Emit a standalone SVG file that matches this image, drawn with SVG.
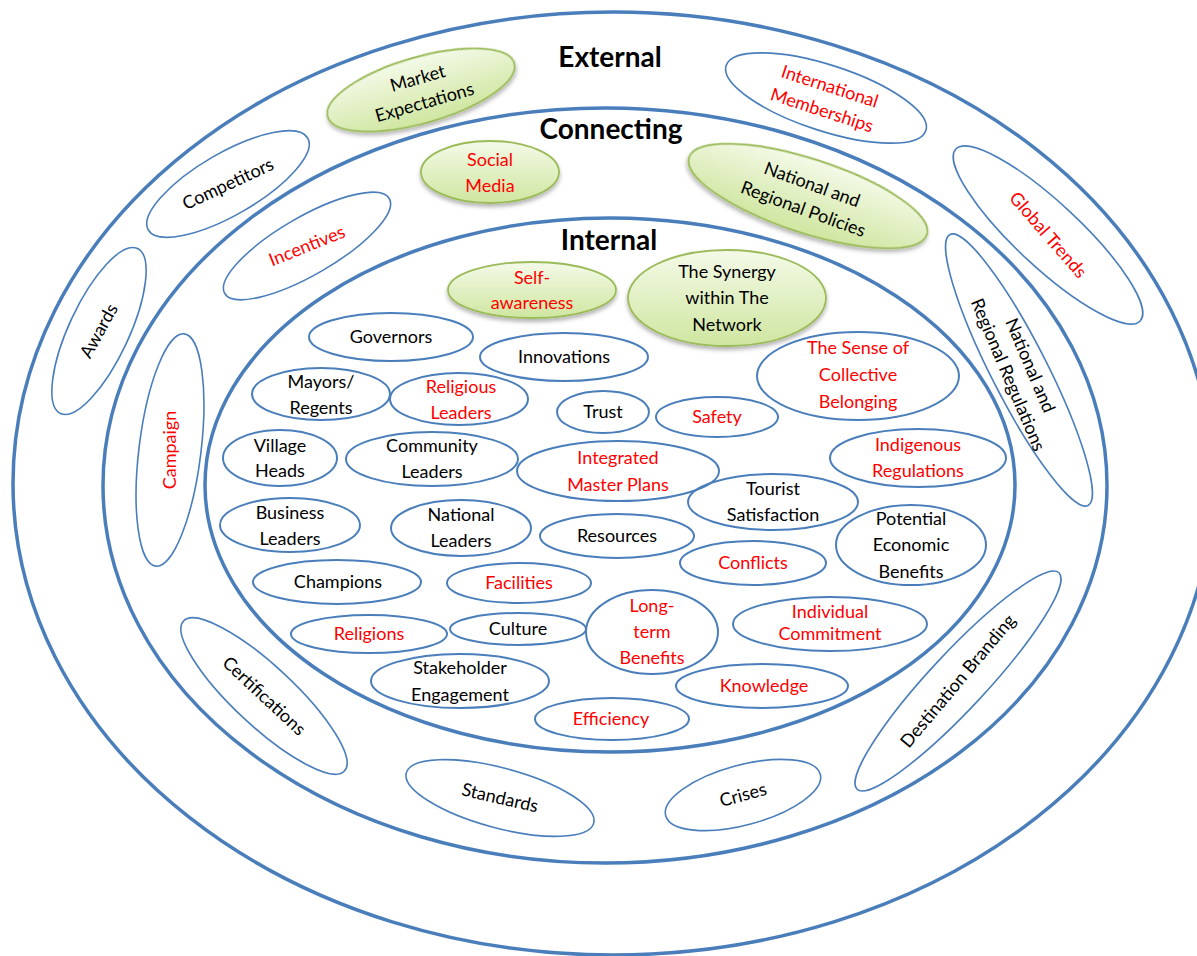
<svg xmlns="http://www.w3.org/2000/svg" width="1197" height="956" viewBox="0 0 1197 956">
<style>
.ring{fill:none;stroke:#4a7ebb;stroke-width:3.5}
.n{fill:none;stroke:#4a7ebb;stroke-width:2}
.o{fill:none;stroke:#4a7ebb;stroke-width:1.6}
.g{fill:url(#gg);stroke:#9bbb59;stroke-width:1.8;filter:url(#sh)}
text{font-family:Lato,"Liberation Sans",sans-serif;font-size:18px;text-anchor:middle;fill:#000}
.r{fill:#ff0000}
.h{font-weight:bold;font-size:28px}
</style>
<defs>
<linearGradient id="gg" x1="0" y1="0" x2="0" y2="1">
<stop offset="0" stop-color="#f4fae8"/>
<stop offset="1" stop-color="#cfe6a0"/>
</linearGradient>
<filter id="sh" x="-20%" y="-20%" width="140%" height="150%">
<feDropShadow dx="0" dy="3" stdDeviation="2" flood-color="#000" flood-opacity="0.3"/>
</filter>
</defs>
<g id="rings">
<ellipse class="ring" cx="613" cy="483.5" rx="600" ry="471.5"/>
<ellipse class="ring" cx="605" cy="485.5" rx="502" ry="377.5"/>
<ellipse class="ring" cx="610" cy="485" rx="405" ry="267"/>
</g>
<g id="labels">
<text class="h" x="610" y="67">External</text>
<text class="h" x="611" y="139">Connecting</text>
<text class="h" x="609" y="250">Internal</text>
</g>
<g id="connectors"></g>
<!-- external ring -->
<g id="market" transform="translate(421,90) rotate(-16)">
<ellipse class="g" rx="97" ry="33"/>
<text y="-6">Market</text><text y="19">Expectations</text>
</g>
<g id="intl" transform="translate(826,98) rotate(18)">
<ellipse class="o" rx="105" ry="33"/>
<text class="r" y="-6">International</text><text class="r" y="19">Memberships</text>
</g>
<g id="competitors" transform="translate(228,184) rotate(-30)">
<ellipse class="o" rx="92" ry="31"/>
<text y="6" transform="rotate(5)">Competitors</text>
</g>
<g id="global" transform="translate(1048,235) rotate(43)">
<ellipse class="o" rx="126" ry="32"/>
<text class="r" y="6" transform="rotate(6)">Global Trends</text>
</g>
<g id="awards" transform="translate(99,331) rotate(-65)">
<ellipse class="o" rx="91" ry="30"/>
<text y="6" transform="rotate(4)">Awards</text>
</g>
<g id="certifications" transform="translate(264,696) rotate(43)">
<ellipse class="o" rx="110" ry="30"/>
<text y="6">Certifications</text>
</g>
<g id="standards" transform="translate(500,798) rotate(15)">
<ellipse class="o" rx="97" ry="30"/>
<text y="6" transform="rotate(-2)">Standards</text>
</g>
<g id="crises" transform="translate(743,795) rotate(-15)">
<ellipse class="o" rx="80" ry="30"/>
<text y="6">Crises</text>
</g>
<g id="branding" transform="translate(958,681) rotate(-47)">
<ellipse class="o" rx="148" ry="28"/>
<text y="6" transform="rotate(-3)">Destination Branding</text>
</g>
<!-- connecting ring -->
<g id="social">
<ellipse class="g" cx="490" cy="172" rx="69" ry="31"/>
<text class="r" x="490" y="166">Social</text><text class="r" x="490" y="192">Media</text>
</g>
<g id="policies" transform="translate(808,196) rotate(18)">
<ellipse class="g" rx="125" ry="37"/>
<text y="-6" transform="rotate(2)">National and</text><text y="20" transform="rotate(2)">Regional Policies</text>
</g>
<g id="incentives" transform="translate(307,246) rotate(-30)">
<ellipse class="o" rx="95" ry="29"/>
<text class="r" y="6" transform="rotate(8)">Incentives</text>
</g>
<g id="campaign" transform="translate(170,450) rotate(-83)">
<ellipse class="o" rx="117" ry="31"/>
<text class="r" y="6" transform="rotate(-7)">Campaign</text>
</g>
<g id="regulations" transform="translate(1019,370) rotate(63)">
<ellipse class="o" rx="152" ry="28"/>
<text y="-6" transform="rotate(4)">National and</text><text y="18" transform="rotate(4)">Regional Regulations</text>
</g>
<!-- internal ring -->
<g id="selfaware">
<ellipse class="g" cx="532" cy="290" rx="84" ry="28"/>
<text class="r" x="532" y="284">Self-</text><text class="r" x="532" y="309">awareness</text>
</g>
<g id="synergy">
<ellipse class="g" cx="727" cy="298" rx="99" ry="48"/>
<text x="727" y="278">The Synergy</text><text x="727" y="304">within The</text><text x="727" y="331">Network</text>
</g>
<g id="governors"><ellipse class="n" cx="391" cy="337" rx="82" ry="24"/><text x="391" y="343">Governors</text></g>
<g id="innovations"><ellipse class="n" cx="564" cy="357" rx="84" ry="24"/><text x="564" y="363">Innovations</text></g>
<g id="sense"><ellipse class="n" cx="858" cy="376" rx="101" ry="44"/><text class="r" x="858" y="354">The Sense of</text><text class="r" x="858" y="381">Collective</text><text class="r" x="858" y="408">Belonging</text></g>
<g id="mayors"><ellipse class="n" cx="321" cy="394" rx="69" ry="26"/><text x="321" y="388">Mayors/</text><text x="321" y="414">Regents</text></g>
<g id="religiousleaders"><ellipse class="n" cx="459" cy="399" rx="69" ry="26"/><text class="r" x="461" y="393">Religious</text><text class="r" x="461" y="419">Leaders</text></g>
<g id="trust"><ellipse class="n" cx="603" cy="412" rx="46" ry="21"/><text x="603" y="418">Trust</text></g>
<g id="safety"><ellipse class="n" cx="717" cy="417" rx="61" ry="20"/><text class="r" x="717" y="423">Safety</text></g>
<g id="indigenous"><ellipse class="n" cx="918" cy="458" rx="88" ry="29"/><text class="r" x="918" y="451">Indigenous</text><text class="r" x="918" y="477">Regulations</text></g>
<g id="village"><ellipse class="n" cx="280" cy="458" rx="57" ry="28"/><text x="280" y="452">Village</text><text x="280" y="477">Heads</text></g>
<g id="community"><ellipse class="n" cx="432" cy="459" rx="86" ry="27"/><text x="432" y="452">Community</text><text x="432" y="478">Leaders</text></g>
<g id="integrated"><ellipse class="n" cx="618" cy="471" rx="101" ry="30"/><text class="r" x="618" y="464">Integrated</text><text class="r" x="618" y="491">Master Plans</text></g>
<g id="tourist"><ellipse class="n" cx="773" cy="502" rx="85" ry="28"/><text x="773" y="495">Tourist</text><text x="773" y="521">Satisfaction</text></g>
<g id="potential"><ellipse class="n" cx="911" cy="545" rx="75" ry="40"/><text x="911" y="525">Potential</text><text x="911" y="551">Economic</text><text x="911" y="578">Benefits</text></g>
<g id="business"><ellipse class="n" cx="290" cy="525" rx="70" ry="27"/><text x="290" y="519">Business</text><text x="290" y="545">Leaders</text></g>
<g id="national"><ellipse class="n" cx="461" cy="528" rx="70" ry="28"/><text x="461" y="521">National</text><text x="461" y="547">Leaders</text></g>
<g id="resources"><ellipse class="n" cx="617" cy="536" rx="77" ry="22"/><text x="617" y="542">Resources</text></g>
<g id="conflicts"><ellipse class="n" cx="753" cy="563" rx="73" ry="22"/><text class="r" x="753" y="569">Conflicts</text></g>
<g id="champions"><ellipse class="n" cx="337" cy="582" rx="84" ry="22"/><text x="338" y="588">Champions</text></g>
<g id="facilities"><ellipse class="n" cx="519" cy="583" rx="72" ry="20"/><text class="r" x="519" y="589">Facilities</text></g>
<g id="religions"><ellipse class="n" cx="369" cy="634" rx="78" ry="19"/><text class="r" x="369" y="640">Religions</text></g>
<g id="culture"><ellipse class="n" cx="518" cy="629" rx="68" ry="16"/><text x="518" y="635">Culture</text></g>
<g id="longterm"><ellipse class="n" cx="652" cy="632" rx="66" ry="42"/><text class="r" x="652" y="612">Long-</text><text class="r" x="652" y="638">term</text><text class="r" x="652" y="664">Benefits</text></g>
<g id="individual"><ellipse class="n" cx="830" cy="624" rx="97" ry="27"/><text class="r" x="830" y="618">Individual</text><text class="r" x="830" y="640">Commitment</text></g>
<g id="stakeholder"><ellipse class="n" cx="460" cy="681" rx="89" ry="27"/><text x="460" y="674">Stakeholder</text><text x="460" y="701">Engagement</text></g>
<g id="knowledge"><ellipse class="n" cx="762" cy="686" rx="86" ry="22"/><text class="r" x="764" y="692">Knowledge</text></g>
<g id="efficiency"><ellipse class="n" cx="612" cy="719" rx="77" ry="21"/><text class="r" x="611" y="725">Efficiency</text></g>
</svg>
